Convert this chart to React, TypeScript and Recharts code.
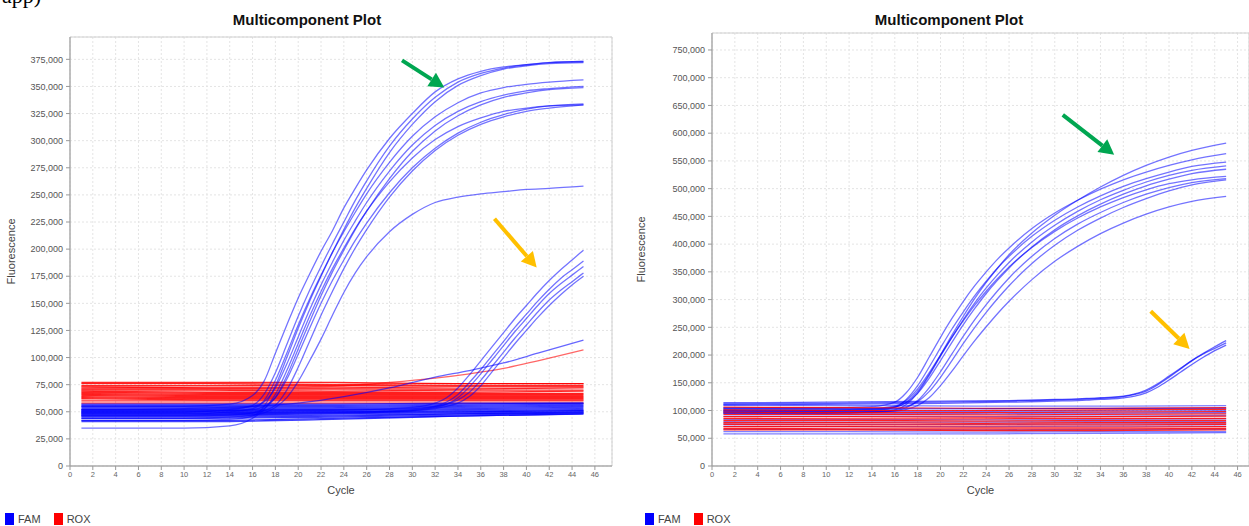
import React from "react";
import { LineChart, Line, XAxis, YAxis, CartesianGrid, ReferenceArea, ReferenceLine } from "recharts";

const FONT = '"Liberation Sans", Arial, sans-serif';
const FAM = "#0000ff";
const ROX = "#ff0000";

const earlyCycles = [1, 10, 14, 16, 17, 18, 19, 20, 21, 22, 23, 24, 25, 26, 28, 30, 32, 34, 36, 38, 40, 42, 45];
const lateCycles = [1, 10, 20, 26, 30, 32, 33, 34, 35, 36, 37, 38, 39, 40, 41, 42, 43, 44, 45];
const flatCycles = [1, 12, 23, 34, 45];
const driftCycles = [1, 10, 16, 20, 24, 28, 32, 35, 38, 41, 45];
const cycleTicks = [0, 2, 4, 6, 8, 10, 12, 14, 16, 18, 20, 22, 24, 26, 28, 30, 32, 34, 36, 38, 40, 42, 44, 46];

// ---- left plot ----
const leftTicks = [0, 25000, 50000, 75000, 100000, 125000, 150000, 175000, 200000, 225000, 250000, 275000, 300000, 325000, 350000, 375000];

const leftEarly = [
  [55, 55, 57, 65, 78, 104, 130, 155, 177, 198, 217, 238, 256, 273, 302, 325, 345, 357, 364, 368, 370, 372, 373],
  [50, 50, 52, 56, 66, 86, 112, 138, 162, 184, 205, 225, 245, 263, 295, 320, 340, 354, 362, 367, 370, 372, 373],
  [42, 42, 43, 46, 55, 74, 100, 127, 152, 175, 197, 218, 238, 256, 289, 315, 336, 351, 360, 366, 369, 371, 372],
  [48, 48, 50, 53, 60, 79, 104, 130, 154, 176, 197, 216, 234, 251, 280, 304, 322, 335, 344, 349, 352, 354, 356],
  [52, 52, 53, 55, 59, 72, 94, 119, 144, 167, 188, 208, 226, 243, 272, 296, 314, 327, 336, 342, 346, 348, 350],
  [46, 46, 47, 49, 53, 63, 83, 108, 133, 157, 179, 199, 218, 235, 265, 290, 309, 323, 333, 340, 344, 347, 349],
  [50, 50, 51, 52, 55, 63, 80, 103, 127, 150, 171, 190, 208, 224, 252, 275, 293, 307, 317, 324, 329, 332, 334],
  [35, 35, 37, 44, 52, 66, 88, 113, 138, 161, 182, 201, 219, 235, 262, 284, 301, 313, 321, 327, 330, 332, 333],
  [47, 47, 48, 49, 51, 56, 70, 91, 115, 139, 161, 182, 201, 218, 248, 272, 291, 305, 315, 322, 327, 330, 333],
  [44, 44, 45, 47, 49, 54, 63, 78, 97, 117, 139, 160, 178, 193, 216, 232, 243, 248, 251, 253, 255, 256, 258],
];

const leftLate = [
  [50, 50, 51, 52, 54, 58, 63, 72, 84, 97, 110, 123, 136, 148, 160, 171, 181, 190, 199],
  [48, 48, 49, 50, 52, 55, 59, 66, 77, 89, 102, 115, 128, 140, 152, 163, 173, 181, 189],
  [47, 47, 48, 49, 51, 54, 57, 63, 73, 85, 98, 111, 124, 136, 148, 159, 168, 176, 184],
  [51, 51, 52, 52, 53, 55, 57, 61, 68, 79, 92, 105, 118, 130, 142, 153, 162, 170, 178],
  [49, 49, 50, 50, 51, 53, 55, 58, 64, 74, 87, 100, 113, 125, 137, 148, 158, 167, 175],
];

const leftDriftFam = [52, 53, 55, 58, 64, 72, 82, 88, 95, 104, 116];
const leftDriftRox = [72, 72, 72, 73, 74, 77, 81, 85, 90, 97, 107];

const leftFlatRox = [
  [77, 77, 77, 76, 76], [76, 76, 75, 76, 76], [74, 74, 74, 74, 74], [73, 72, 72, 73, 73],
  [71, 71, 71, 71, 72], [70, 70, 69, 70, 70], [69, 68, 68, 68, 69], [68, 67, 67, 67, 67],
  [67, 66, 66, 66, 66], [66, 65, 65, 65, 65], [65, 64, 64, 64, 64], [64, 63, 63, 63, 63],
  [63, 62, 62, 62, 62], [62, 61, 61, 61, 61], [60, 60, 60, 60, 60], [58, 58, 58, 58, 58],
];

const leftFlatFam = [
  [57, 57, 57, 58, 58], [56, 56, 56, 57, 58], [55, 55, 55, 56, 57], [54, 54, 54, 55, 56],
  [53, 53, 53, 54, 55], [52, 52, 52, 53, 54], [51, 51, 51, 52, 53], [50, 50, 50, 51, 52],
  [49, 49, 50, 50, 51], [48, 48, 49, 50, 51], [47, 47, 48, 49, 50], [46, 46, 47, 48, 50],
  [45, 45, 46, 48, 49], [44, 44, 45, 47, 49], [42, 42, 44, 46, 48], [41, 41, 43, 46, 48],
];

// ---- right plot ----
const rightTicks = [0, 50000, 100000, 150000, 200000, 250000, 300000, 350000, 400000, 450000, 500000, 550000, 600000, 650000, 700000, 750000];

const rightEarly = [
  [100, 100, 102, 106, 115, 135, 165, 200, 236, 270, 302, 331, 357, 381, 420, 452, 479, 503, 524, 542, 557, 569, 582],
  [105, 105, 107, 115, 132, 160, 196, 232, 266, 297, 325, 350, 373, 393, 428, 456, 479, 499, 516, 530, 542, 552, 563],
  [98, 98, 100, 106, 120, 145, 178, 213, 247, 278, 307, 333, 357, 378, 414, 443, 467, 487, 504, 518, 530, 540, 548],
  [95, 95, 97, 101, 111, 132, 163, 198, 232, 264, 294, 321, 345, 367, 404, 434, 459, 480, 497, 512, 524, 533, 541],
  [102, 102, 103, 106, 114, 131, 158, 190, 223, 255, 284, 311, 335, 357, 395, 426, 451, 472, 490, 505, 517, 527, 535],
  [97, 97, 98, 100, 105, 118, 141, 170, 202, 234, 264, 291, 316, 339, 378, 410, 436, 457, 475, 490, 502, 511, 518],
  [100, 100, 101, 103, 107, 116, 134, 160, 190, 221, 250, 277, 302, 325, 365, 398, 425, 447, 466, 482, 496, 507, 516],
  [96, 96, 97, 99, 102, 109, 123, 145, 171, 199, 226, 251, 275, 297, 336, 369, 396, 419, 438, 454, 467, 477, 486],
  [103, 103, 104, 108, 118, 139, 168, 200, 232, 262, 290, 315, 338, 359, 394, 423, 447, 467, 484, 498, 509, 516, 522],
];

const rightLate = [
  [112, 113, 115, 117, 119, 120, 121, 122, 123, 125, 129, 135, 146, 160, 175, 190, 203, 215, 226],
  [114, 115, 117, 118, 120, 121, 122, 123, 124, 126, 130, 137, 148, 162, 176, 190, 202, 212, 222],
  [110, 111, 113, 115, 117, 118, 119, 120, 121, 123, 126, 132, 142, 155, 169, 183, 196, 208, 218],
];

const rightFlatRox = [
  [106, 105, 104, 104, 105], [101, 100, 100, 101, 102], [97, 96, 96, 97, 98], [93, 93, 92, 93, 94],
  [89, 89, 88, 89, 90], [86, 85, 85, 86, 86], [82, 82, 81, 82, 82], [78, 78, 77, 78, 78],
  [75, 74, 74, 74, 75], [71, 71, 70, 70, 71], [68, 67, 67, 67, 68], [65, 65, 64, 64, 65],
];

const rightFlatFam = [
  [110, 109, 108, 108, 109], [104, 103, 103, 104, 104], [99, 98, 98, 99, 100], [95, 94, 94, 95, 96],
  [90, 90, 89, 90, 91], [84, 84, 83, 84, 85], [80, 79, 79, 80, 80], [76, 75, 75, 76, 76],
  [72, 71, 71, 72, 72], [66, 66, 65, 66, 66], [62, 62, 61, 62, 62], [58, 58, 58, 59, 60],
];

// annotation arrows, in chart units: [cycle, fluorescence in thousands]
const leftArrows = [
  { from: [29.1, 374], to: [32.8, 349], color: "#00a651" },
  { from: [37.2, 228], to: [40.9, 183], color: "#ffc000" },
];
const rightArrows = [
  { from: [30.7, 633], to: [35.2, 561], color: "#00a651" },
  { from: [38.4, 279], to: [41.8, 211], color: "#ffc000" },
];

type Pt = { cycle: number; v: number };
type Series = { key: string; data: Pt[]; color: string; opacity: number };

const pts = (cycles: number[], vals: number[]): Pt[] => cycles.map((c, i) => ({ cycle: c, v: vals[i] * 1000 }));

const group = (name: string, cycles: number[], rows: number[][], color: string, opacity: number): Series[] =>
  rows.map((r, i) => ({ key: `${name}-${i}`, data: pts(cycles, r), color, opacity }));

const leftSeries: Series[] = [
  ...group("lrox", flatCycles, leftFlatRox, ROX, 0.85),
  ...group("lrd", driftCycles, [leftDriftRox], ROX, 0.6),
  ...group("lfam", flatCycles, leftFlatFam, FAM, 0.75),
  ...group("lfd", driftCycles, [leftDriftFam], FAM, 0.6),
  ...group("learly", earlyCycles, leftEarly, FAM, 0.55),
  ...group("llate", lateCycles, leftLate, FAM, 0.55),
];

const rightSeries: Series[] = [
  ...group("rearly", earlyCycles, rightEarly, FAM, 0.55),
  ...rightFlatFam.flatMap((r, i) => [
    { key: `rfam-${i}`, data: pts(flatCycles, r), color: FAM, opacity: 0.5 },
    { key: `rrox-${i}`, data: pts(flatCycles, rightFlatRox[i]), color: ROX, opacity: 0.85 },
  ]),
  ...group("rlate", lateCycles, rightLate, FAM, 0.6),
];

function arrowShape(color: string) {
  return (p: any) => {
    const { x1, y1, x2, y2 } = p;
    const dx = x2 - x1;
    const dy = y2 - y1;
    const len = Math.hypot(dx, dy) || 1;
    const ux = dx / len;
    const uy = dy / len;
    const head = 15;
    const half = 8;
    const bx = x2 - ux * head;
    const by = y2 - uy * head;
    return (
      <g>
        <line x1={x1} y1={y1} x2={bx} y2={by} stroke={color} strokeWidth={4} />
        <polygon
          points={`${x2},${y2} ${bx - uy * half},${by + ux * half} ${bx + uy * half},${by - ux * half}`}
          fill={color}
        />
      </g>
    );
  };
}

type PanelProps = {
  width: number;
  top: number;
  axisWidth: number;
  right: number;
  xMax: number;
  yMax: number;
  yTicks: number[];
  series: Series[];
  arrows: { from: number[]; to: number[]; color: string }[];
};

function Panel({ width, top, axisWidth, right, xMax, yMax, yTicks, series, arrows }: PanelProps) {
  return (
    <LineChart width={width} height={500} margin={{ top, right, left: 0, bottom: 4 }}>
      <CartesianGrid stroke="#e4e4e4" strokeDasharray="2 2" />
      <XAxis
        dataKey="cycle"
        type="number"
        domain={[0, xMax]}
        ticks={cycleTicks}
        allowDataOverflow
        height={30}
        tickSize={4}
        tickMargin={2}
        tick={{ fontSize: 7.5, fill: "#666", fontFamily: FONT }}
        stroke="#999"
        label={{ value: "Cycle", position: "insideBottom", offset: 2, fontSize: 11, fill: "#444", fontFamily: FONT }}
      />
      <YAxis
        type="number"
        domain={[0, yMax]}
        ticks={yTicks}
        allowDataOverflow
        width={axisWidth}
        tickSize={4}
        tickMargin={3}
        tick={{ fontSize: 9, fill: "#555", fontFamily: FONT }}
        tickFormatter={(v: number) => v.toLocaleString("en-US")}
        stroke="#999"
        label={{
          value: "Fluorescence",
          angle: -90,
          position: "insideLeft",
          offset: 11,
          style: { textAnchor: "middle", fontSize: 11, fill: "#444", fontFamily: FONT },
        }}
      />
      <ReferenceArea x1={0} x2={xMax} y1={0} y2={yMax} fill="none" stroke="#d0d0d0" ifOverflow="visible" />
      {series.map((s) => (
        <Line
          key={s.key}
          data={s.data}
          dataKey="v"
          type="monotone"
          stroke={s.color}
          strokeOpacity={s.opacity}
          strokeWidth={1.3}
          dot={false}
          activeDot={false}
          isAnimationActive={false}
        />
      ))}
      {arrows.map((a, i) => (
        <ReferenceLine
          key={`arrow-${i}`}
          segment={[
            { x: a.from[0], y: a.from[1] * 1000 },
            { x: a.to[0], y: a.to[1] * 1000 },
          ]}
          ifOverflow="visible"
          shape={arrowShape(a.color)}
        />
      ))}
    </LineChart>
  );
}

function Legend() {
  const item = (color: string, text: string) => (
    <span style={{ display: "inline-flex", alignItems: "center", marginRight: 13 }}>
      <span style={{ width: 9, height: 12, background: color, display: "inline-block", marginRight: 4 }} />
      <span>{text}</span>
    </span>
  );
  return (
    <div style={{ fontFamily: FONT, fontSize: 11, color: "#444", display: "flex" }}>
      {item(FAM, "FAM")}
      {item(ROX, "ROX")}
    </div>
  );
}

const titleStyle: React.CSSProperties = {
  position: "absolute",
  top: 11,
  textAlign: "center",
  fontFamily: FONT,
  fontWeight: 700,
  fontSize: 15,
  lineHeight: "18px",
  color: "#111",
};

export default function App() {
  return (
    <div
      style={{
        position: "absolute",
        left: 0,
        top: 0,
        width: 1249,
        height: 526,
        overflow: "hidden",
        background: "#fff",
      }}
    >
      <div
        style={{
          position: "absolute",
          left: 2,
          top: -16,
          fontFamily: "'Liberation Serif', serif",
          fontSize: 22,
          lineHeight: "24px",
        }}
      >
        app)
      </div>

      <div style={{ ...titleStyle, left: 0, width: 614 }}>Multicomponent Plot</div>
      <div style={{ position: "absolute", left: 0, top: 0 }}>
        <Panel
          width={620}
          top={37}
          axisWidth={70}
          right={8}
          xMax={47.5}
          yMax={395600}
          yTicks={leftTicks}
          series={leftSeries}
          arrows={leftArrows}
        />
      </div>
      <div style={{ position: "absolute", left: 5, top: 513 }}>
        <Legend />
      </div>

      <div style={{ ...titleStyle, left: 630, width: 638 }}>Multicomponent Plot</div>
      <div style={{ position: "absolute", left: 630, top: 0 }}>
        <Panel
          width={619}
          top={33}
          axisWidth={82}
          right={0}
          xMax={47}
          yMax={780600}
          yTicks={rightTicks}
          series={rightSeries}
          arrows={rightArrows}
        />
      </div>
      <div style={{ position: "absolute", left: 645, top: 513 }}>
        <Legend />
      </div>
    </div>
  );
}
